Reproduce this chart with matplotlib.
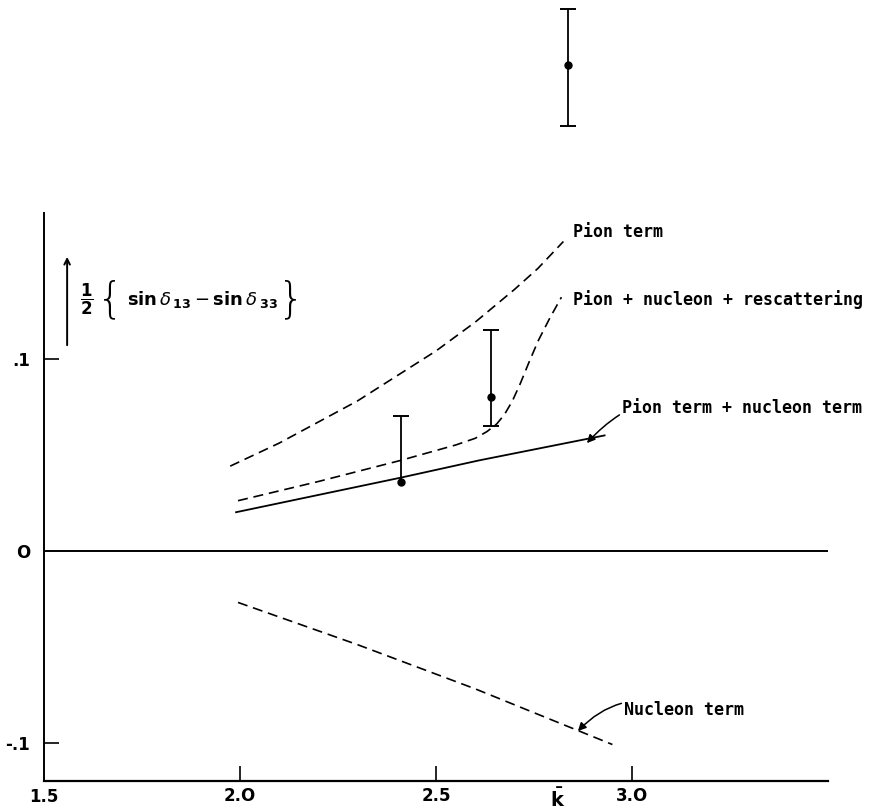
import numpy as np
import matplotlib.pyplot as plt

plt.rcParams['mathtext.fontset'] = 'dejavusans'

# curves
pion_k = [1.975, 2.1, 2.2, 2.3, 2.4, 2.5, 2.6, 2.7, 2.76, 2.825]
pion_y = [0.044, 0.056, 0.067, 0.078, 0.091, 0.104, 0.119, 0.136, 0.147, 0.161]

resc_k = [1.995, 2.2, 2.41, 2.55, 2.60, 2.63, 2.655, 2.675, 2.695, 2.715, 2.735, 2.76, 2.79, 2.82]
resc_y = [0.026, 0.036, 0.047, 0.055, 0.0585, 0.062, 0.066, 0.071, 0.078, 0.087, 0.097, 0.109, 0.121, 0.132]

pn_k = [1.99, 2.41, 2.61, 2.93]
pn_y = [0.020, 0.038, 0.047, 0.060]

nuc_k = [1.995, 2.3, 2.6, 2.95]
nuc_y = [-0.027, -0.049, -0.072, -0.101]

# measured points (dot, lower end, upper end, lower cap drawn?)
pt_k = [2.41, 2.64, 2.837]
pt_y = [0.036, 0.080, 0.253]
pt_lo = [0.036, 0.065, 0.221]
pt_hi = [0.070, 0.115, 0.282]
pt_locap = [False, True, True]

xticks = [2.0, 2.5, 3.0]
xticklabels = ['2.O', '2.5', '3.O']
yticks = [-0.1, 0.0, 0.1]
yticklabels = ['-.1', 'O', '.1']

fig = plt.figure(figsize=(8.93, 8.11), dpi=100)
ax = fig.add_axes([44 / 893, 30 / 811, 784 / 893, 781 / 811])
ax.set_xlim(1.5, 3.5)
ax.set_ylim(-0.12, 0.2868)

for s in ['top', 'right']:
    ax.spines[s].set_visible(False)
ax.spines['left'].set_bounds(-0.12, 0.176)
ax.spines['left'].set_linewidth(1.4)
ax.spines['bottom'].set_linewidth(1.6)

ax.set_xticks(xticks)
ax.set_xticklabels(xticklabels)
ax.set_yticks(yticks)
ax.set_yticklabels(yticklabels)
ax.tick_params(direction='in', length=11, width=1.2, labelsize=12)
ax.tick_params(axis='x', pad=4)
ax.tick_params(axis='y', pad=10)
ax.yaxis.get_major_ticks()[1].tick1line.set_visible(False)
for lab in ax.get_xticklabels() + ax.get_yticklabels():
    lab.set_fontweight('bold')
ax.text(1.5, -0.1285, '1.5', ha='center', va='center', fontsize=12, fontweight='bold')

ax.axhline(0, color='black', lw=1.4)

dash = (0, (6, 3.5))
ax.plot(pion_k, pion_y, color='black', lw=1.2, linestyle=dash)
ax.plot(resc_k, resc_y, color='black', lw=1.2, linestyle=dash)
ax.plot(pn_k, pn_y, color='black', lw=1.3)
ax.plot(nuc_k, nuc_y, color='black', lw=1.2, linestyle=dash)

# error bars
ax.vlines(pt_k, pt_lo, pt_hi, color='black', lw=1.3, clip_on=False)
ax.plot(pt_k, pt_hi, '_', color='black', ms=12, mew=1.4, clip_on=False)
lo_k = [k for k, c in zip(pt_k, pt_locap) if c]
lo_y = [y for y, c in zip(pt_lo, pt_locap) if c]
ax.plot(lo_k, lo_y, '_', color='black', ms=12, mew=1.4, clip_on=False)
ax.plot(pt_k, pt_y, 'o', color='black', ms=5, clip_on=False)

font = dict(family='DejaVu Sans Mono', fontsize=12, fontweight='bold')
ax.text(2.85, 0.166, 'Pion term', ha='left', va='center', **font)
ax.text(2.85, 0.131, 'Pion + nucleon + rescattering', ha='left', va='center', **font)
ax.annotate('Pion term + nucleon term', xy=(2.885, 0.056), xytext=(2.975, 0.0745),
            ha='left', va='center', **font,
            arrowprops=dict(arrowstyle='-|>', color='black', lw=1.1,
                            connectionstyle='arc3,rad=0.35', shrinkA=0, shrinkB=0))
ax.annotate('Nucleon term', xy=(2.862, -0.094), xytext=(2.98, -0.083),
            ha='left', va='center', **font,
            arrowprops=dict(arrowstyle='-|>', color='black', lw=1.1,
                            connectionstyle='arc3,rad=0.35', shrinkA=0, shrinkB=0))

# y label with the arrow
ax.annotate('', xy=(1.559, 0.153), xytext=(1.559, 0.107),
            arrowprops=dict(arrowstyle='->', color='black', lw=1.4, shrinkA=0, shrinkB=0))
ax.text(1.608, 0.131, r'$\dfrac{\mathbf{1}}{\mathbf{2}}$', ha='center', va='center', fontsize=12)
ax.text(1.668, 0.1305, '{', ha='center', va='center', fontsize=30, fontweight='light')
ax.text(1.712, 0.131,
        r'$\mathbf{sin}\,\delta_{\,\mathbf{13}} - \mathbf{sin}\,\delta_{\;\mathbf{33}}$',
        ha='left', va='center', fontsize=13)
ax.text(2.13, 0.1305, '}', ha='center', va='center', fontsize=30, fontweight='light')

ax.text(2.81, -0.1297, r'$\mathbf{\bar{k}}$', ha='center', va='center', fontsize=14, clip_on=False)

fig.savefig('out.png', dpi=100)
